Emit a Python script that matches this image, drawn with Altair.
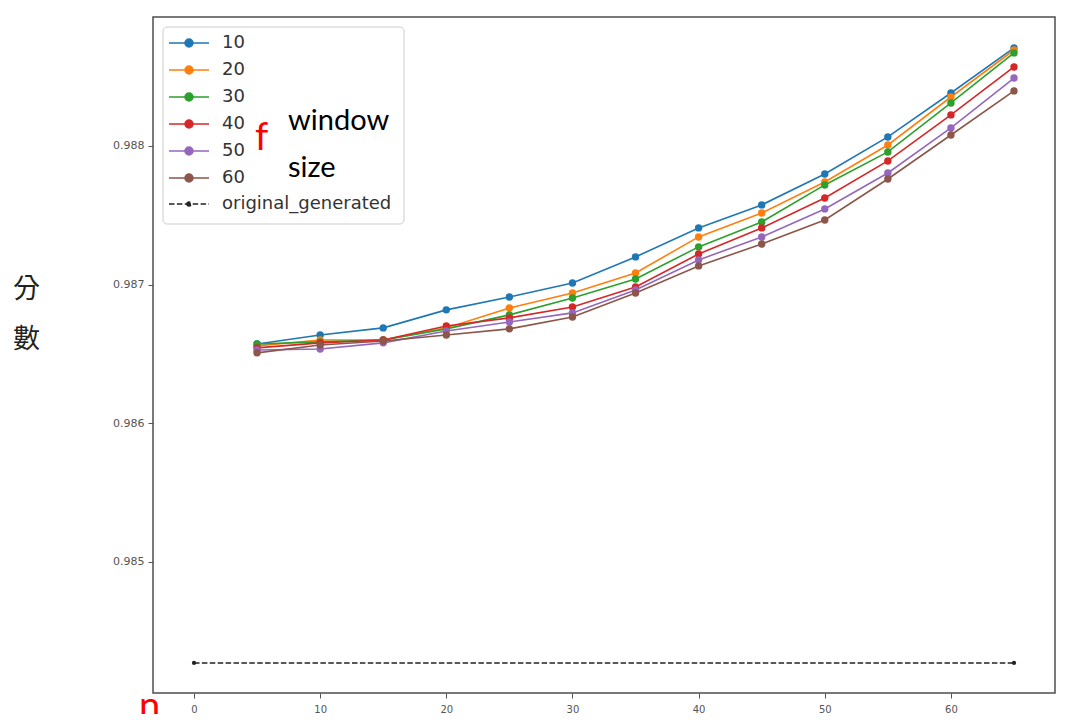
import altair as alt
import pandas as pd

# ---- data ----
steps = [5, 10, 15, 20, 25, 30, 35, 40, 45, 50, 55, 60, 65]
windows = ["10", "20", "30", "40", "50", "60"]
score_10 = [0.986572, 0.986637, 0.986688, 0.986818, 0.986911, 0.987012, 0.987200,
            0.987409, 0.987575, 0.987798, 0.988065, 0.988382, 0.988707]
score_20 = [0.986558, 0.986601, 0.986601, 0.986688, 0.986832, 0.986940, 0.987084,
            0.987344, 0.987517, 0.987740, 0.988007, 0.988353, 0.988692]
score_30 = [0.986572, 0.986587, 0.986601, 0.986681, 0.986782, 0.986904, 0.987041,
            0.987272, 0.987452, 0.987719, 0.987957, 0.988310, 0.988671]
score_40 = [0.986544, 0.986580, 0.986601, 0.986702, 0.986760, 0.986839, 0.986983,
            0.987221, 0.987409, 0.987625, 0.987892, 0.988224, 0.988570]
score_50 = [0.986529, 0.986536, 0.986580, 0.986666, 0.986731, 0.986796, 0.986962,
            0.987178, 0.987344, 0.987546, 0.987805, 0.988130, 0.988490]
score_60 = [0.986508, 0.986565, 0.986594, 0.986637, 0.986681, 0.986767, 0.986940,
            0.987135, 0.987293, 0.987466, 0.987762, 0.988079, 0.988397]
orig_label = ["original_generated"]
orig_steps = [0, 65]
orig_scores = [0.984272, 0.984272]
x_ticks = [0, 10, 20, 30, 40, 50, 60]
y_ticks = [0.985, 0.986, 0.987, 0.988]
y_title = ["分", "數"]
notes_black = ["window", "size"]
notes_red = ["f", "n"]

colors = ["#1f77b4", "#ff7f0e", "#2ca02c", "#d62728", "#9467bd", "#8c564b"]

series = [score_10, score_20, score_30, score_40, score_50, score_60]
rows = []
for w, vals in zip(windows, series):
    for s, v in zip(steps, vals):
        rows.append({"n": s, "score": v, "window": w})
df = pd.DataFrame(rows)
df_orig = pd.DataFrame({"n": orig_steps, "score": orig_scores,
                        "series": orig_label * len(orig_steps)})

# ---- encodings ----
x_enc = alt.X("n:Q",
              scale=alt.Scale(domain=[-3.25, 68.25], nice=False, zero=False),
              axis=alt.Axis(values=x_ticks, title=None, labelPadding=6,
                            labelFontSize=10))
y_enc = alt.Y("score:Q",
              scale=alt.Scale(domain=[0.984055, 0.988930], nice=False, zero=False),
              axis=alt.Axis(values=y_ticks, format=".3f", title=y_title,
                            titleAngle=0, titleX=-127, titleY=272,
                            titleAlign="center", titleBaseline="middle",
                            titleFont="Noto Sans CJK TC", titleFontSize=27,
                            titleFontWeight="normal", titleLineHeight=50,
                            titleColor="#222", labelPadding=4, labelFontSize=11))

sym_path = ("M-1,0H1M-0.2,0A0.2,0.2,0,1,0,0.2,0A0.2,0.2,0,1,0,-0.2,0Z")
sym_path_small = ("M-1,0H1M-0.1,0A0.1,0.1,0,1,0,0.1,0A0.1,0.1,0,1,0,-0.1,0Z")

leg_main = alt.Legend(title=None, orient="none", legendX=15, legendY=17,
                      symbolType=sym_path, symbolSize=1600, symbolStrokeWidth=1.5,
                      labelFont="DejaVu Sans", labelFontSize=18, labelColor="#333",
                      labelOffset=12, rowPadding=9, clipHeight=18, padding=0,
                      labelLimit=300)
leg_orig = alt.Legend(title=None, orient="none", legendX=15, legendY=178,
                      symbolType=sym_path_small, symbolSize=1600, symbolStrokeWidth=1.5,
                      symbolFillColor="#222", symbolStrokeColor="#222",
                      labelFont="DejaVu Sans", labelFontSize=18, labelColor="#333",
                      labelOffset=12, clipHeight=18, padding=0, labelLimit=300)

color_scale_stroke = alt.Scale(domain=windows, range=colors)
color_scale_fill = alt.Scale(domain=windows, range=colors)

lines = alt.Chart(df).mark_line(strokeWidth=1.6).encode(
    x=x_enc, y=y_enc,
    stroke=alt.Stroke("window:N", scale=color_scale_stroke, legend=leg_main),
)
points = alt.Chart(df).mark_circle(size=55, opacity=1).encode(
    x=x_enc, y=y_enc,
    fill=alt.Fill("window:N", scale=color_scale_fill, legend=leg_main),
)
orig_line = alt.Chart(df_orig).mark_line(strokeWidth=1.5, color="#222").encode(
    x=x_enc, y=y_enc,
    strokeDash=alt.StrokeDash("series:N",
                              scale=alt.Scale(domain=orig_label, range=[[5.5, 2.4]]),
                              legend=leg_orig),
)
orig_points = alt.Chart(df_orig).mark_circle(size=18, opacity=1, color="#222").encode(
    x=x_enc, y=y_enc,
)

legend_box = alt.Chart(pd.DataFrame({"k": [0]})).mark_rect(
    fill="white", stroke="#cccccc", strokeWidth=1, cornerRadius=4
).encode(x=alt.value(10), x2=alt.value(251), y=alt.value(10), y2=alt.value(207))

txt_window = alt.Chart(pd.DataFrame({"t": [notes_black[0]]})).mark_text(
    font="Lato", fontSize=29, color="#000", align="left", baseline="alphabetic"
).encode(text="t:N", x=alt.value(135), y=alt.value(113))
txt_size = alt.Chart(pd.DataFrame({"t": [notes_black[1]]})).mark_text(
    font="Lato", fontSize=29, color="#000", align="left", baseline="alphabetic"
).encode(text="t:N", x=alt.value(135), y=alt.value(160))
txt_f = alt.Chart(pd.DataFrame({"t": [notes_red[0]]})).mark_text(
    font="Lato", fontSize=38, color="#ff0000", align="left", baseline="alphabetic"
).encode(text="t:N", x=alt.value(102), y=alt.value(133))
txt_n = alt.Chart(pd.DataFrame({"t": [notes_red[1]]})).mark_text(
    font="Lato", fontSize=38, color="#ff0000", align="left", baseline="alphabetic"
).encode(text="t:N", x=alt.value(-14), y=alt.value(702))

chart = alt.layer(
    lines, points, orig_line, orig_points, legend_box,
    txt_window, txt_size, txt_f, txt_n
).properties(
    width=902, height=676,
    autosize=alt.AutoSizeParams(type="none"),
    padding={"left": 145, "top": 9, "right": 10, "bottom": 21},
    background="white",
).configure_view(
    stroke="#4d4d4d", strokeWidth=1.5
).configure_axis(
    domain=False, grid=False, ticks=True, tickColor="#555", tickSize=5,
    tickWidth=1, labelFont="DejaVu Sans", labelColor="#555",
)

chart.save("out.html", embed_options={"renderer": "svg", "actions": False})
